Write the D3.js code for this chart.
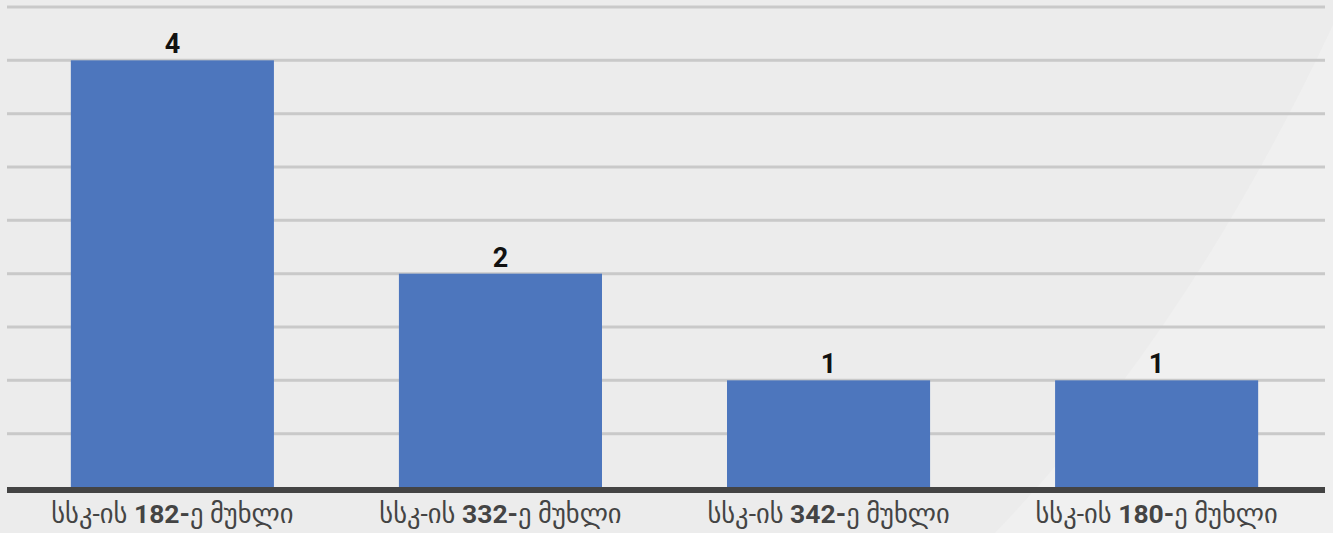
<html>
<head>
<meta charset="utf-8">
<style>
  body { margin: 0; background: #ececec; }
  svg { display: block; }
</style>
</head>
<body>
<svg width="1333" height="533"></svg>
<script src="https://d3js.org/d3.v7.min.js"></script>
<script>
var categories = ["სსკ-ის 182-ე მუხლი", "სსკ-ის 332-ე მუხლი", "სსკ-ის 342-ე მუხლი", "სსკ-ის 180-ე მუხლი"];
var values = [4, 2, 1, 1];
var gridTicks = [0.5, 1, 1.5, 2, 2.5, 3, 3.5, 4, 4.5];

var svg = d3.select("svg"),
	width = +svg.attr("width"),
	height = +svg.attr("height");

var plotLeft = 7, plotRight = 1325, plotBase = 487, plotTop = 7;

// faint lighter swoosh on the right of the background
svg.append("path")
	.attr("d", "M1333,0 L1333,533 L995,533 Q1190,330 1333,25 Z")
	.style("fill", "#f0f0f0");

var x = d3.scaleBand().domain(categories).range([8.5, 1320.5]).paddingInner(0.381).paddingOuter(0.19);
var y = d3.scaleLinear().domain([0, 4.5]).range([plotBase, plotTop]);

svg.append("g").selectAll("line")
	.data(gridTicks)
	.enter().append("line")
	.attr("x1", plotLeft).attr("x2", plotRight)
	.attr("y1", function(d){ return y(d) }).attr("y2", function(d){ return y(d) })
	.style("stroke", "#c9c9c9")
	.style("stroke-width", 3);

svg.append("g").selectAll("rect")
	.data(values)
	.enter().append("rect")
	.attr("x", function(d, i){ return x(categories[i]) })
	.attr("y", function(d){ return y(d) })
	.attr("width", x.bandwidth())
	.attr("height", function(d){ return y(0) - y(d) })
	.style("fill", "#4d76bd");

// baseline
svg.append("line")
	.attr("x1", plotLeft).attr("x2", plotRight)
	.attr("y1", y(0) + 3).attr("y2", y(0) + 3)
	.style("stroke", "#444444")
	.style("stroke-width", 6);

svg.append("g").selectAll("text")
	.data(values)
	.enter().append("text")
	.attr("x", function(d, i){ return x(categories[i]) + x.bandwidth() / 2 })
	.attr("y", function(d){ return y(d) - 7 })
	.attr("text-anchor", "middle")
	.style("font-family", "Roboto, 'DejaVu Sans', sans-serif")
	.style("font-weight", "bold")
	.style("font-size", "27px")
	.style("fill", "#111")
	.text(function(d){ return d });

var labels = svg.append("g").selectAll("text")
	.data(categories)
	.enter().append("text")
	.attr("x", function(d){ return x(d) + x.bandwidth() / 2 })
	.attr("y", 523)
	.attr("text-anchor", "middle")
	.style("font-family", "Roboto, 'DejaVu Sans', sans-serif")
	.style("font-size", "26.5px")
	.style("fill", "#444");

labels.each(function(d) {
	var m = d.match(/^(.*?)(\d+-)(.*)$/);
	var t = d3.select(this);
	t.append("tspan").text(m[1]);
	t.append("tspan").style("font-weight", "bold").text(m[2]);
	t.append("tspan").text(m[3]);
});
</script>
</body>
</html>
